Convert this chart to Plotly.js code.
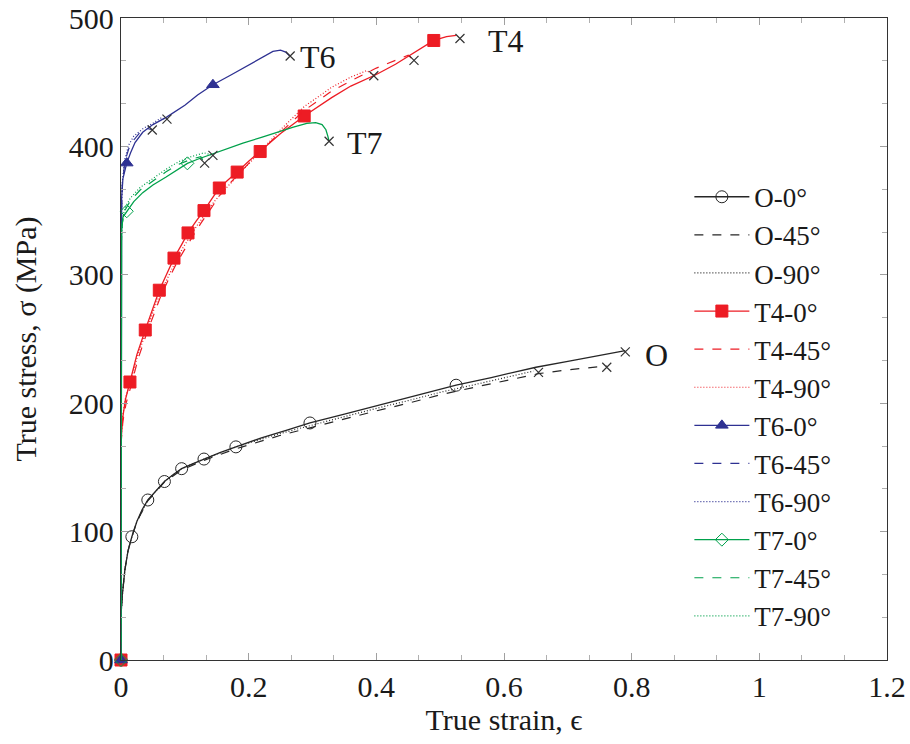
<!DOCTYPE html>
<html>
<head>
<meta charset="utf-8">
<script src="https://cdn.plot.ly/plotly-3.0.1.min.js"></script>
<style>html,body{margin:0;padding:0;background:#fff;}#chart{width:910px;height:744px;}</style>
</head>
<body>
<div id="chart"></div>
<script>
// ---------- data ----------
const O0_x = [0,0,0.002,0.006,0.011,0.017,0.025,0.033,0.042,0.055,0.068,0.082,0.095,0.113,0.13,0.155,0.18,0.22,0.26,0.296,0.35,0.40,0.45,0.50,0.525,0.58,0.65,0.70,0.75,0.775,0.79];
const O0_y = [0,35,50,70,85,96,108,117,124.6,132,139,144.5,149,153,156.5,161.5,166,173,179,184.6,191.5,198,204,210.5,214,220,228,232.5,237,239.5,241];
const O0_marks = [0,5,8,10,12,14,16,19,24];

const O45_x = [0,0,0.002,0.006,0.011,0.017,0.025,0.042,0.068,0.095,0.13,0.18,0.25,0.30,0.35,0.40,0.45,0.50,0.55,0.60,0.654,0.70,0.761];
const O45_y = [0,35,50,70,85,96,108,124,138.5,148,155.5,164.5,175,181.5,188,194,200,206.5,212,217.5,223,226,229];

const O90_x = [0,0,0.002,0.006,0.011,0.017,0.025,0.042,0.068,0.095,0.13,0.18,0.25,0.30,0.35,0.40,0.45,0.50,0.55,0.60,0.646];
const O90_y = [0,35,50,70,85,96,108,124.5,139,149,156.5,166,176.5,183,190,196,202,208.5,214,219.5,225];

const T4_0_x = [0,0,0.003,0.007,0.014,0.025,0.038,0.05,0.06,0.072,0.083,0.095,0.105,0.118,0.13,0.142,0.154,0.168,0.182,0.2,0.218,0.25,0.287,0.33,0.36,0.40,0.43,0.46,0.49,0.51,0.525];
const T4_0_y = [0,170,190,203,216.5,238,257,274,288,301,313,323.5,332.6,342,350,359,367.6,374,380,388.5,396,410,423.7,438,447,456,464,473,482.5,485.5,486.5];
const T4_0_marks = [0,4,6,8,10,12,14,16,18,20,22,28];

const T4_45_x = [0,0,0.003,0.008,0.016,0.027,0.04,0.052,0.062,0.075,0.087,0.1,0.112,0.125,0.14,0.155,0.17,0.185,0.2,0.218,0.25,0.287,0.33,0.36,0.40,0.43,0.45,0.459];
const T4_45_y = [0,168,186,200,214,235,254,270,283,297,309,320,330,340,351,362,371,379,387,396,411,428,443,451,461,467,471,467];

const T4_90_x = [0,0,0.003,0.007,0.015,0.026,0.039,0.05,0.061,0.073,0.085,0.097,0.108,0.12,0.133,0.146,0.16,0.175,0.19,0.205,0.22,0.25,0.287,0.33,0.36,0.385,0.396];
const T4_90_y = [0,172,191,204,217,237,255,271,285,298,310,321,330,339,348,357,365,373,381,389,397,413,431,446,454,459,455.5];

const T6_0_x = [0,0,0.001,0.003,0.009,0.015,0.022,0.034,0.05,0.072,0.1,0.12,0.144,0.17,0.191,0.215,0.238,0.25,0.258,0.264];
const T6_0_y = [0,330,360,375,387,395,403,411,417,423,432,440,448,455,461,468,474,475,473.5,470.5];
const T6_0_marks = [0,4,12];

const T6_45_x = [0,0,0.002,0.006,0.012,0.02,0.03,0.04,0.049];
const T6_45_y = [0,330,370,388,398,405,411,414,413];

const T6_90_x = [0,0,0.002,0.006,0.012,0.02,0.035,0.05,0.062,0.072];
const T6_90_y = [0,330,372,390,401,408,414,418,422,421];

const T7_0_x = [0,0,0.001,0.003,0.009,0.02,0.034,0.05,0.07,0.088,0.104,0.12,0.139,0.165,0.191,0.22,0.244,0.27,0.291,0.305,0.315,0.321,0.324,0.326];
const T7_0_y = [0,320,335,345,349.5,357,364,370,376,381.5,386.8,390,393.5,398,402.6,407,411,415,418,418.5,417,413,408,404];
const T7_0_marks = [0,4,10];

const T7_45_x = [0,0,0.002,0.006,0.015,0.03,0.05,0.07,0.09,0.11,0.125,0.131];
const T7_45_y = [0,320,340,350,358,366,373,380,386,390,392,387];

const T7_90_x = [0,0,0.002,0.006,0.015,0.03,0.05,0.07,0.09,0.11,0.13,0.144];
const T7_90_y = [0,320,342,352,360,368,375,382,388,392,395,393];

// fracture points (x marks)
const fracture_x = [0.79,0.761,0.654,0.531,0.459,0.396,0.265,0.049,0.072,0.326,0.131,0.144];
const fracture_y = [240,228,224,484,467,455,470.4,412.8,421.3,404,387,393];

// material labels
const label_text = ['O','T4','T6','T7'];
const label_x = [0.818,0.572,0.277,0.351];
const label_y = [237.5,482,469.6,402.6];

// ---------- styles ----------
const FONT = 'Liberation Serif, Times New Roman, serif';
const C = {O:'#262626', T4:'#ed1c24', T6:'#2e3192', T7:'#00a14b'};
const DOT = '1px,2px';

const traces = [];
function addZero(name, color, xs, ys, marks, symbol, msize, mfill) {
  const g = name;
  traces.push({x: xs, y: ys, mode: 'lines', type: 'scatter', legendgroup: g, showlegend: false,
    line: {color: color, width: 1.3}, hoverinfo: 'skip'});
  traces.push({x: marks.map(i => xs[i]), y: marks.map(i => ys[i]), mode: 'markers', type: 'scatter',
    legendgroup: g, showlegend: false, cliponaxis: false,
    marker: {symbol: symbol, size: msize, color: mfill, line: {color: color, width: 1}}});
  traces.push({x: [null], y: [null], mode: 'lines+markers', type: 'scatter', name: name, legendgroup: g,
    line: {color: color, width: 1.3},
    marker: {symbol: symbol, size: msize, color: mfill, line: {color: color, width: 1}}});
}
function addOther(name, color, xs, ys, dash) {
  traces.push({x: xs, y: ys, mode: 'lines', type: 'scatter', name: name, legendgroup: name,
    line: {color: color, width: 1.2, dash: dash}});
}

addZero('O-0°', C.O, O0_x, O0_y, O0_marks, 'circle-open', 12, C.O);
addOther('O-45°', C.O, O45_x, O45_y, 'dash');
addOther('O-90°', C.O, O90_x, O90_y, DOT);
addZero('T4-0°', C.T4, T4_0_x, T4_0_y, T4_0_marks, 'square', 12, C.T4);
addOther('T4-45°', C.T4, T4_45_x, T4_45_y, 'dash');
addOther('T4-90°', C.T4, T4_90_x, T4_90_y, DOT);
addZero('T6-0°', C.T6, T6_0_x, T6_0_y, T6_0_marks, 'triangle-up', 11, C.T6);
addOther('T6-45°', C.T6, T6_45_x, T6_45_y, 'dash');
addOther('T6-90°', C.T6, T6_90_x, T6_90_y, DOT);
addZero('T7-0°', C.T7, T7_0_x, T7_0_y, T7_0_marks, 'diamond-open', 10, C.T7);
addOther('T7-45°', C.T7, T7_45_x, T7_45_y, 'dash');
addOther('T7-90°', C.T7, T7_90_x, T7_90_y, DOT);

traces.push({x: fracture_x, y: fracture_y, mode: 'markers', type: 'scatter', showlegend: false,
  marker: {symbol: 'x-thin', size: 9, line: {color: '#333', width: 1.2}}});

const annotations = label_text.map((t, i) => ({
  x: label_x[i], y: label_y[i], xref: 'x', yref: 'y', text: t, showarrow: false,
  xanchor: 'left', yanchor: 'middle', font: {family: FONT, size: 32, color: '#1a1a1a'}
}));

const axisCommon = {
  ticks: 'inside', ticklen: 7, tickwidth: 1, tickcolor: '#a0a0a0',
  showline: true, linecolor: '#333', linewidth: 1.3, mirror: 'allticks',
  showgrid: false, zeroline: false,
  tickfont: {family: FONT, size: 30, color: '#1a1a1a'}
};

const layout = {
  width: 910, height: 744,
  margin: {l: 121, r: 23, t: 18, b: 84},
  paper_bgcolor: '#fff', plot_bgcolor: '#fff',
  showlegend: true,
  xaxis: Object.assign({}, axisCommon, {
    range: [0, 1.2], tick0: 0, dtick: 0.2,
    minor: {tick0: 0, dtick: 0.2/3, ticks: 'inside', ticklen: 5, tickcolor: '#b0b0b0'},
    title: {text: 'True strain, ϵ', font: {family: FONT, size: 30, color: '#1a1a1a'}, standoff: 0}
  }),
  yaxis: Object.assign({}, axisCommon, {
    range: [0, 500], tick0: 0, dtick: 100,
    minor: {tick0: 0, dtick: 100/3, ticks: 'inside', ticklen: 5, tickcolor: '#b0b0b0'},
    title: {text: 'True stress, σ (MPa)', font: {family: FONT, size: 30, color: '#1a1a1a'}, standoff: 23}
  }),
  legend: {
    x: 0.742, y: 0.759, xanchor: 'left', yanchor: 'top',
    bgcolor: 'rgba(255,255,255,0)', borderwidth: 0,
    traceorder: 'grouped', tracegroupgap: 0, itemwidth: 55,
    font: {family: FONT, size: 27, color: '#1a1a1a'}
  },
  annotations: annotations
};

Plotly.newPlot('chart', traces, layout, {displayModeBar: false, staticPlot: true});
</script>
</body>
</html>
